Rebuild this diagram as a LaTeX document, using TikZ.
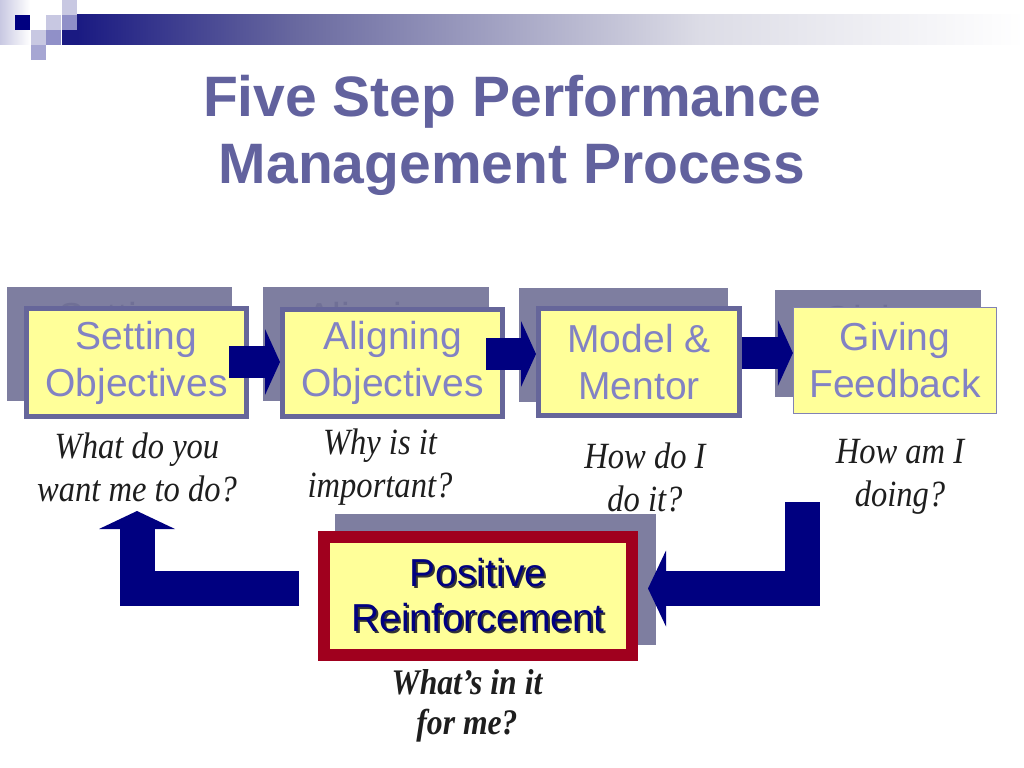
\documentclass[tikz,border=0pt]{standalone}
\usepackage{fontspec}
\setmainfont{Liberation Sans}
\newfontfamily\qserif[FakeStretch=0.88]{Liberation Serif}
\usetikzlibrary{arrows.meta,calc}
\definecolor{yel}{HTML}{FFFF99}
\definecolor{fborder}{HTML}{66669A}
\definecolor{shad}{HTML}{7E7EA0}
\definecolor{ghost}{HTML}{707096}
\definecolor{boxtxt}{HTML}{8282C4}
\definecolor{titlec}{HTML}{62629E}
\definecolor{navyc}{HTML}{000080}
\definecolor{redc}{HTML}{A0001E}
\definecolor{qtxt}{HTML}{1E1E1E}
\definecolor{sqa}{HTML}{C8C8E2}
\definecolor{sqb}{HTML}{9090C8}
\definecolor{barA}{HTML}{1A1A82}
\definecolor{barB}{HTML}{6A6AA0}
\definecolor{barC}{HTML}{DCDCE6}
\pgfdeclarehorizontalshading{barshade}{100bp}{color(0bp)=(barA); color(25bp)=(barA); color(36.75bp)=(barB); color(57.9bp)=(barC); color(75bp)=(white); color(100bp)=(white)}
\newcommand\bxfont{\fontsize{39bp}{47bp}\selectfont}
\newcommand\qfont{\qserif\itshape\fontsize{37bp}{43bp}\selectfont}
\newcommand\shtext[1]{\makebox[0pt][l]{\raisebox{-2bp}{\hspace{2bp}\textcolor{black!80}{#1}}}\textcolor{navyc}{#1}}
\begin{document}
\begin{tikzpicture}[x=1bp,y=-1bp,
  shadowbox/.style={fill=shad, inner sep=0pt, outer sep=0pt, font=\bxfont, text=ghost, align=center},
  frontbox/.style={draw=fborder, line width=5bp, fill=yel, inner sep=0pt, font=\bxfont, text=boxtxt, align=center},
  question/.style={font=\qfont, text=qtxt, align=center, inner sep=0pt},
  toparrow/.style={draw=navyc, line width=32bp, -{Triangle[length=15bp,width=66bp,line width=0pt]}},
  bigarrow/.style={draw=navyc, line width=35bp, line join=miter, -{Triangle[length=18bp,width=76bp,line width=0pt]}}
]
\path[use as bounding box, fill=white] (0,0) rectangle (1024,768);
% corner decoration
\fill[left color=sqa, right color=white] (0,0) rectangle (30,45);
\fill[navyc] (15,15) rectangle (30,30);
\fill[sqa] (46,15) rectangle (61,30);
\fill[sqa] (62,0) rectangle (77,15);
\fill[sqb] (62,15) rectangle (77,30);
\fill[sqa] (31,30) rectangle (46,45);
\fill[sqb] (46,30) rectangle (61,45);
\fill[sqb!80] (31,45) rectangle (46,60);
\fill[barA] (62,30) rectangle (77,45);
\fill[shading=barshade] (77,15) rectangle (1024,45);
% title
\node[font=\fontsize{57bp}{67bp}\selectfont\bfseries, text=titlec, align=center, inner sep=0pt] (title) at (512,135) {Five Step Performance\\Management Process};
% shadows
\node[shadowbox, minimum width=225bp, minimum height=114bp] (sh1) at (119.5,344) {Setting\\Objectives};
\node[shadowbox, minimum width=226bp, minimum height=114bp] (sh2) at (376,344) {Aligning\\Objectives};
\node[shadowbox, minimum width=209bp, minimum height=114bp] (sh3) at (623.5,345) {Model \&\\Mentor};
\node[shadowbox, minimum width=206bp, minimum height=107bp] (sh4) at (878,343.5) {Giving\\Feedback};
% front boxes
\node[frontbox, minimum width=220bp, minimum height=108bp] (s1) at (136.5,362.5) {Setting\\Objectives};
\node[frontbox, minimum width=220bp, minimum height=107bp] (s2) at (392.5,363) {Aligning\\Objectives};
\node[frontbox, minimum width=201bp, minimum height=107bp] (s3) at (639,362) {Model \&\\Mentor};
\node[frontbox, line width=1.2bp, draw=sqb!90!black, minimum width=203bp, minimum height=106bp] (s4) at (895,360.5) {Giving\\Feedback};
% arrows between steps
\draw[toparrow] ($(s1.east)+(-20,-0.5)$) -- ($(s2.west)+(0,-1)$);
\draw[toparrow] ($(s2.east)+(-19,-9)$) -- ($(s3.west)+(0,-8)$);
\draw[toparrow] ($(s3.east)+(0,-9)$) -- ($(s4.west)+(0,-7.5)$);
% questions
\node[question] (q1) at (137,467) {What do you\\want me to do?};
\node[question] (q2) at (380,467) {Why is it\\important?};
\node[question] (q3) at (645,477) {How do I\\do it?};
\node[question] (q4) at (900,477) {How am I\\doing?};
% positive reinforcement
\node[fill=shad, inner sep=0pt, outer sep=0pt, minimum width=321bp, minimum height=131bp] (prsh) at (495.5,579.5) {};
\node[draw=redc, line width=12bp, fill=yel, inner sep=0pt, minimum width=308bp, minimum height=118bp, align=center, font=\fontsize{39bp}{45bp}\selectfont] (pr) at (478,596) {\shtext{Positive}\\\shtext{Reinforcement}};
\node[question, font=\qserif\itshape\bfseries\fontsize{36bp}{40bp}\selectfont] (q5) at (467,706) {What’s in it\\for me?};
% loop arrows
\coordinate (ltip) at (137,511);
\coordinate (rtop) at (802,502);
\draw[bigarrow] ($(pr.west)+(-19,-7.5)$) -| (ltip);
\draw[bigarrow] (rtop) |- ($(pr.east)+(10,-7.5)$);
\end{tikzpicture}
\end{document}
